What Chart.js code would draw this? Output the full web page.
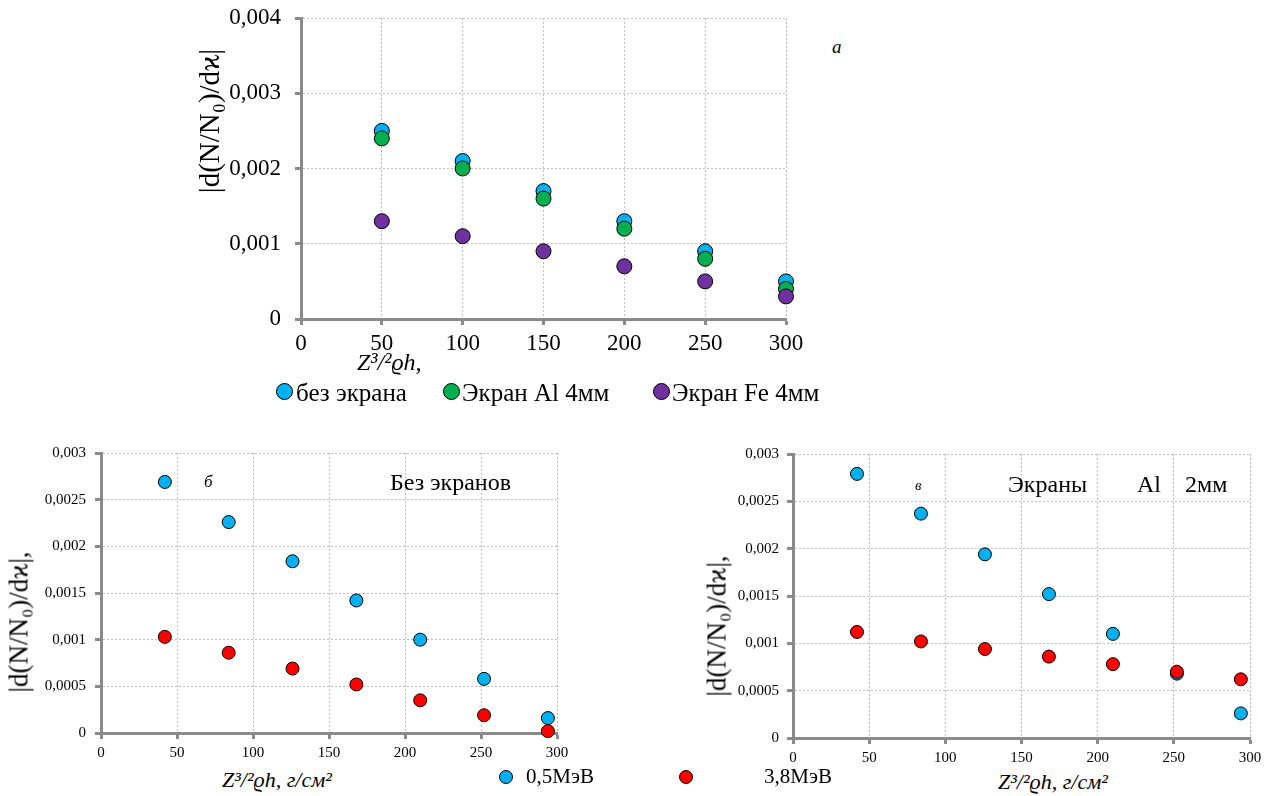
<!DOCTYPE html>
<html>
<head>
<meta charset="utf-8">
<script src="https://cdn.jsdelivr.net/npm/chart.js@4"></script>
<style>
  body { margin: 0; background: #fff; }
  #page { position: relative; width: 1276px; height: 796px; overflow: hidden; font-family: "Liberation Serif", "Times New Roman", "DejaVu Serif", serif; color: #000; }
  .box { position: absolute; }
  .txt { position: absolute; white-space: nowrap; line-height: 1; }
  .it { font-style: italic; }
  .vt { transform: translate(-50%, -50%) rotate(-90deg); }
  .dot { position: absolute; border: 1px solid #000; border-radius: 50%; box-sizing: border-box; }
</style>
</head>
<body>
<div id="page">
  <div class="box" style="left:200px;top:0;width:620px;height:360px"><canvas id="chart-a"></canvas></div>
  <div class="box" style="left:0;top:440px;width:600px;height:326px"><canvas id="chart-b"></canvas></div>
  <div class="box" style="left:690px;top:440px;width:586px;height:326px"><canvas id="chart-c"></canvas></div>

  <!-- chart a texts -->
  <div class="txt vt" style="left:209px;top:121px;font-size:29px">|d(N/N₀)/dϰ|</div>
  <div class="txt it" style="left:357px;top:350px;font-size:24px">Z³/²ϱh,</div>
  <div class="txt it" style="left:832px;top:37px;font-size:19px">а</div>
  <div class="dot" style="left:276px;top:383px;width:17px;height:17px;background:#00b0f0"></div>
  <div class="txt" style="left:296px;top:380px;font-size:25px">без экрана</div>
  <div class="dot" style="left:443px;top:383px;width:17px;height:17px;background:#00b050"></div>
  <div class="txt" style="left:462px;top:380px;font-size:25px">Экран Al 4мм</div>
  <div class="dot" style="left:653px;top:383px;width:17px;height:17px;background:#7030a0"></div>
  <div class="txt" style="left:672px;top:380px;font-size:25px">Экран Fe 4мм</div>

  <!-- chart б texts -->
  <div class="txt vt" style="left:19px;top:622px;font-size:27px">|d(N/N₀)/dϰ|,</div>
  <div class="txt it" style="left:222px;top:769px;font-size:22px">Z³/²ϱh, г/см²</div>
  <div class="txt it" style="left:204px;top:473px;font-size:17px">б</div>
  <div class="txt" style="left:390px;top:470px;font-size:24px">Без экранов</div>

  <!-- chart в texts -->
  <div class="txt vt" style="left:717px;top:626px;font-size:27px">|d(N/N₀)/dϰ|,</div>
  <div class="txt it" style="left:998px;top:771px;font-size:22px">Z³/²ϱh, г/см²</div>
  <div class="txt it" style="left:915px;top:478px;font-size:15px">в</div>
  <div class="txt" style="left:1008px;top:472px;font-size:24px">Экраны</div>
  <div class="txt" style="left:1137px;top:472px;font-size:24px">Al</div>
  <div class="txt" style="left:1185px;top:472px;font-size:24px">2мм</div>

  <!-- shared legend -->
  <div class="dot" style="left:499px;top:770px;width:14px;height:14px;background:#00b0f0"></div>
  <div class="txt" style="left:526px;top:766px;font-size:21px">0,5МэВ</div>
  <div class="dot" style="left:679px;top:770px;width:14px;height:14px;background:#ff0000"></div>
  <div class="txt" style="left:764px;top:766px;font-size:21px">3,8МэВ</div>
</div>

<script>
// chart a: Z^(3/2)*rho*h
const xA = [50, 100, 150, 200, 250, 300];
const aNoScreen = [0.0025, 0.0021, 0.0017, 0.0013, 0.0009, 0.0005];
const aAl4 = [0.0024, 0.0020, 0.0016, 0.0012, 0.0008, 0.0004];
const aFe4 = [0.0013, 0.0011, 0.0009, 0.0007, 0.0005, 0.0003];

// charts б and в share x values
const xBC = [42, 84, 126, 168, 210, 252, 294];
const b05 = [0.00269, 0.00226, 0.00184, 0.00142, 0.00100, 0.00058, 0.00016];
const b38 = [0.00103, 0.00086, 0.00069, 0.00052, 0.00035, 0.00019, 0.00002];
const c05 = [0.00279, 0.00237, 0.00194, 0.00152, 0.00110, 0.00068, 0.00026];
const c38 = [0.00112, 0.00102, 0.00094, 0.00086, 0.00078, 0.00070, 0.00062];

// ticks
const xMax = 300, xStep = 50;
const yMaxA = 0.004, yStepA = 0.001;
const yMaxBC = 0.003, yStepBC = 0.0005;

const colors = { blue: '#00b0f0', green: '#00b050', purple: '#7030a0', red: '#ff0000' };
const serif = '"Liberation Serif", "Times New Roman", serif';

const pts = (xs, ys) => xs.map((x, i) => ({ x: x, y: ys[i] }));
const comma = v => Number(v.toFixed(4)).toString().replace('.', ',');

function dataset(label, xs, ys, color, r) {
  return {
    label: label,
    data: pts(xs, ys),
    backgroundColor: color,
    borderColor: '#000',
    borderWidth: 1,
    pointRadius: r,
    showLine: false,
    clip: false
  };
}

function scales(yMax, yStep, fontSize, yWidth, xHeight, yPad) {
  const grid = { color: '#bdbdbd', tickColor: '#8a8a8a', tickWidth: 3, tickLength: 6, tickBorderDash: [] };
  const border = { color: '#8a8a8a', width: 3, dash: [2, 2] };
  const font = { family: serif, size: fontSize };
  return {
    x: {
      type: 'linear', min: 0, max: xMax,
      grid: grid, border: border,
      ticks: { stepSize: xStep, color: '#000', font: font, padding: 5, maxRotation: 0 },
      afterFit: s => { s.height = xHeight; }
    },
    y: {
      type: 'linear', min: 0, max: yMax,
      grid: grid, border: border,
      ticks: { stepSize: yStep, color: '#000', font: font, padding: yPad, callback: comma },
      afterFit: s => { s.width = yWidth; s.paddingTop = 0; s.paddingBottom = 0; }
    }
  };
}

const common = {
  responsive: true,
  maintainAspectRatio: false,
  animation: false,
  plugins: { legend: { display: false }, tooltip: { enabled: false } }
};

// chart a
new Chart('chart-a', {
  type: 'scatter',
  data: {
    datasets: [
      dataset('Экран Fe 4мм', xA, aFe4, colors.purple, 7.5),
      dataset('Экран Al 4мм', xA, aAl4, colors.green, 7.5),
      dataset('без экрана', xA, aNoScreen, colors.blue, 7.5)
    ]
  },
  options: Object.assign({}, common, {
    layout: { padding: { top: 18, right: 34, bottom: 0, left: 0 } },
    scales: scales(yMaxA, yStepA, 23, 101, 41, 14)
  })
});

// chart б
new Chart('chart-b', {
  type: 'scatter',
  data: {
    datasets: [
      dataset('3,8МэВ', xBC, b38, colors.red, 6.5),
      dataset('0,5МэВ', xBC, b05, colors.blue, 6.5)
    ]
  },
  options: Object.assign({}, common, {
    layout: { padding: { top: 13, right: 43, bottom: 0, left: 0 } },
    scales: scales(yMaxBC, yStepBC, 15, 101, 33, 9)
  })
});

// chart в
new Chart('chart-c', {
  type: 'scatter',
  data: {
    datasets: [
      dataset('3,8МэВ', xBC, c38, colors.red, 6.5),
      dataset('0,5МэВ', xBC, c05, colors.blue, 6.5)
    ]
  },
  options: Object.assign({}, common, {
    layout: { padding: { top: 14, right: 26, bottom: 0, left: 0 } },
    scales: scales(yMaxBC, yStepBC, 15, 103, 28, 8)
  })
});
</script>
</body>
</html>
